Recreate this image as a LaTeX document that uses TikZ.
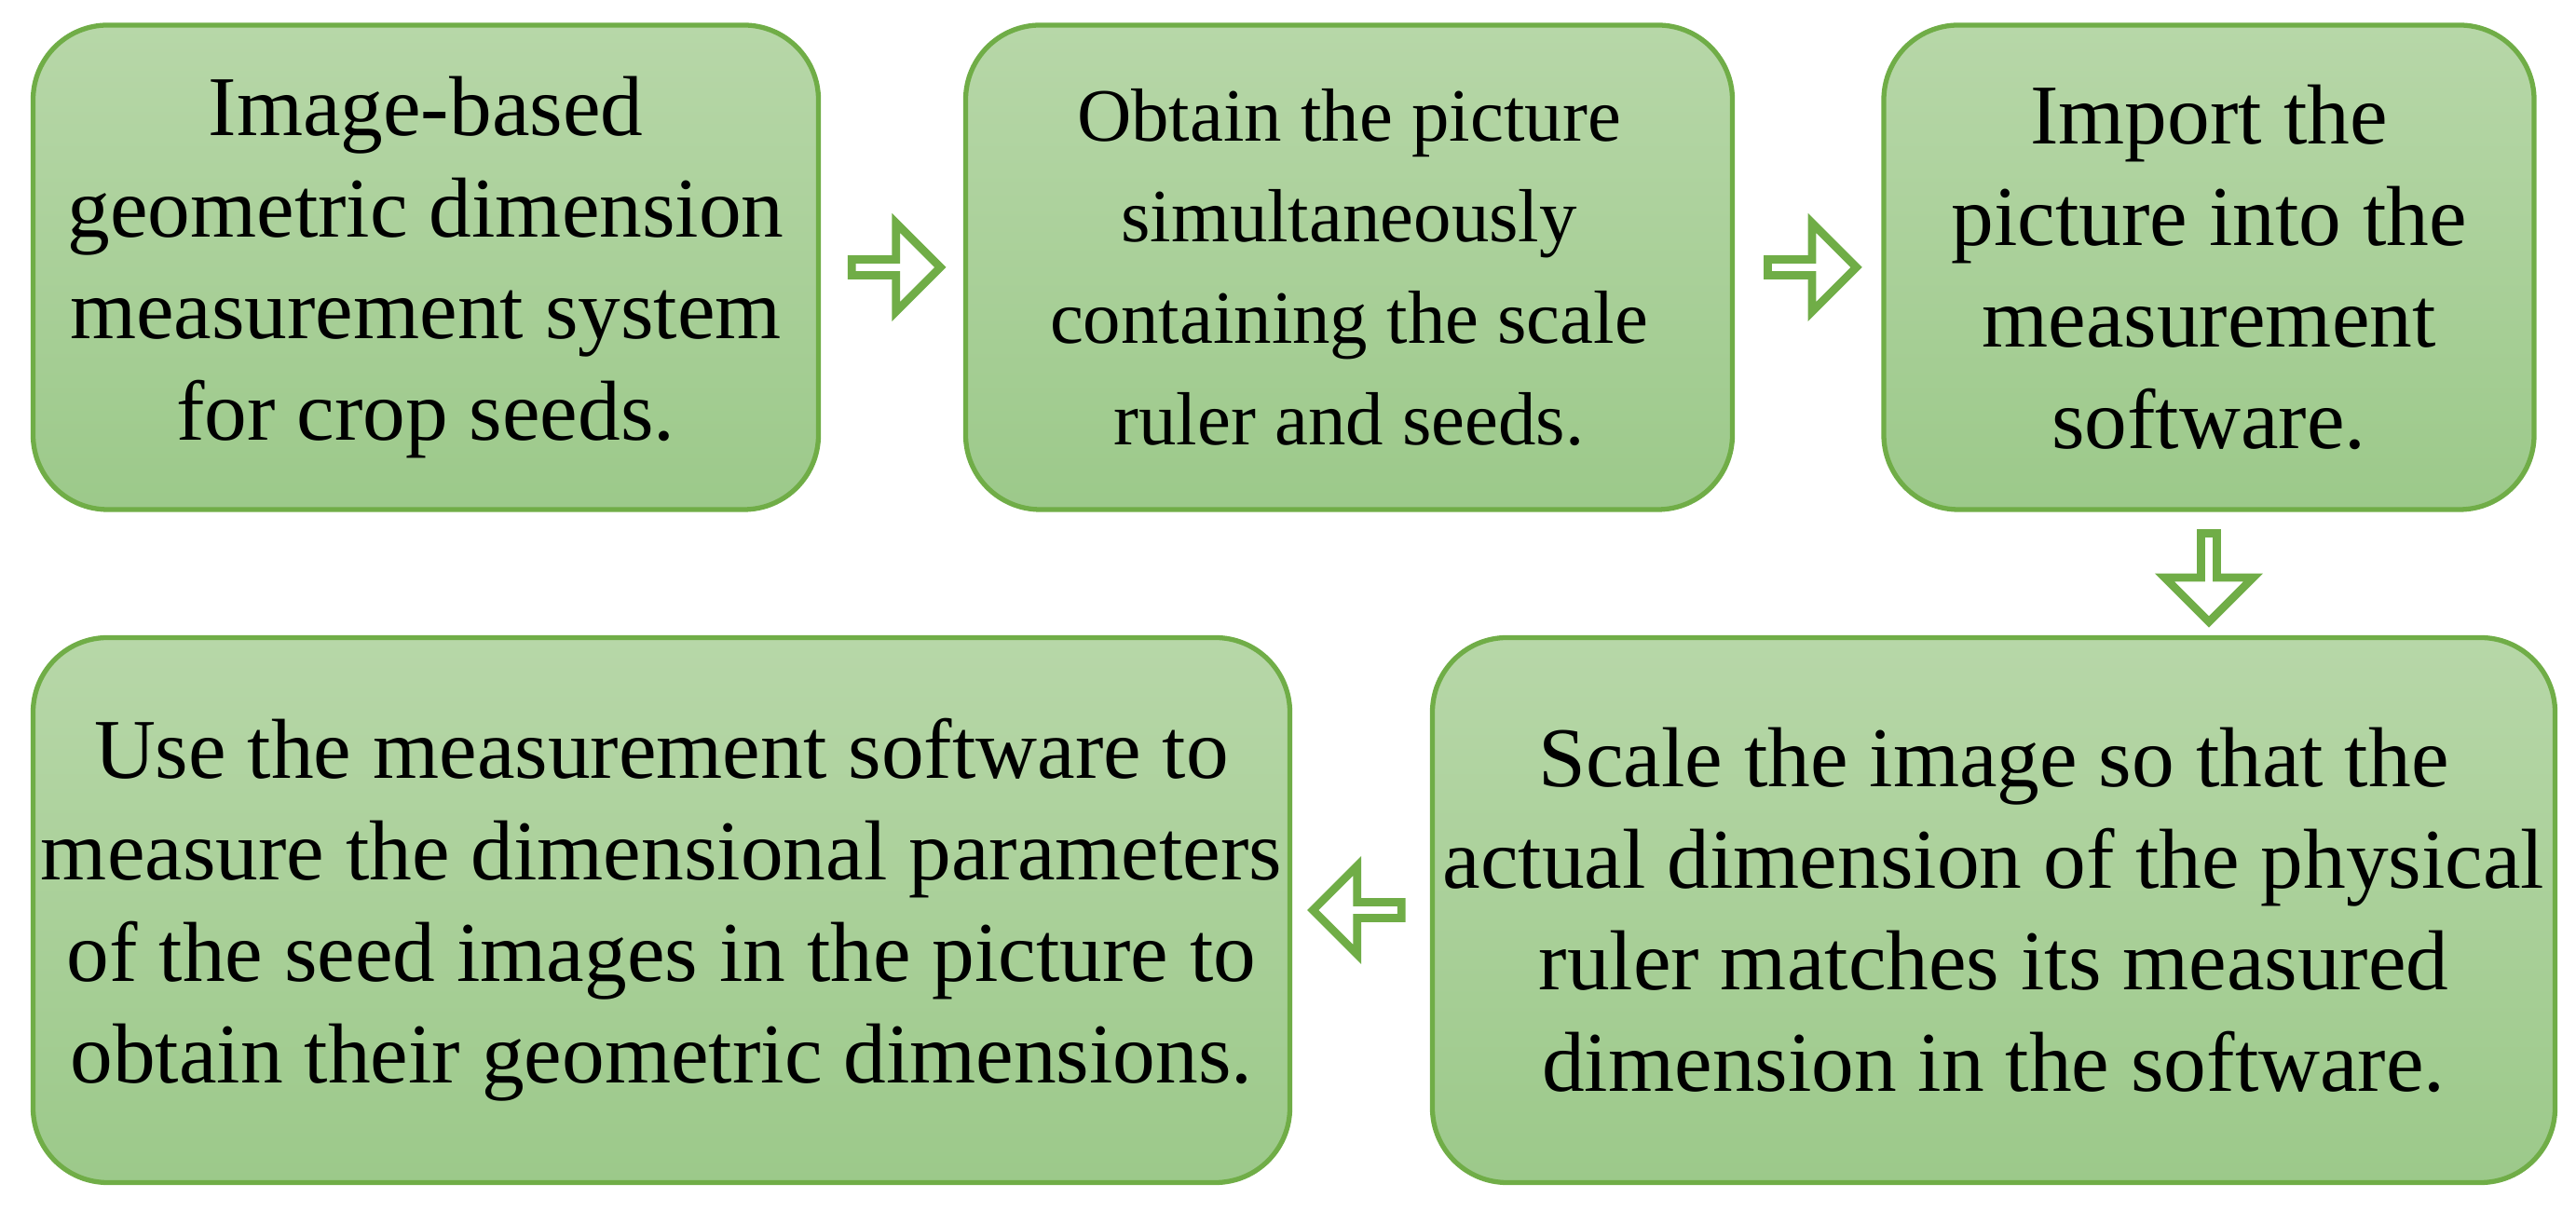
\documentclass[tikz,border=0pt]{standalone}
\usepackage{fontspec}
\setmainfont{Liberation Serif}
\usetikzlibrary{shapes.arrows}
\definecolor{boxtop}{HTML}{B7D7A8}
\definecolor{boxbot}{HTML}{9CC98A}
\definecolor{boxline}{HTML}{70AD47}
\begin{document}
\begin{tikzpicture}[
  stage/.style={draw=boxline, line width=1.5pt, rounded corners=0.8cm,
    top color=boxtop, bottom color=boxbot, align=center,
    inner sep=0pt, font=\fontsize{26}{31}\selectfont},
  flow/.style={single arrow, draw=boxline, fill=white, line width=2.5pt,
    minimum width=0.95cm, single arrow head extend=0.2cm,
    minimum height=0.95cm, inner sep=0pt}
  ]
  \useasboundingbox (0,0) rectangle (27.65,13);

  % top row
  \node[stage, minimum width=8.43cm, minimum height=5.2cm] (seeds) at (4.57,10.13)
    {Image-based\\geometric dimension\\measurement system\\for crop seeds.};
  \node[stage, minimum width=8.23cm, minimum height=5.2cm,
        font=\fontsize{23}{31}\selectfont] (photo) at (14.48,10.13)
    {Obtain the picture\\simultaneously\\containing the scale\\ruler and seeds.};
  \node[stage, minimum width=6.98cm, minimum height=5.2cm] (import) at (23.71,10.13)
    {Import the\\picture into the\\measurement\\software.};

  % bottom row
  \node[stage, minimum width=12.05cm, minimum height=5.85cm] (scale) at (21.40,3.23)
    {Scale the image so that the\\actual dimension of the physical\\ruler matches its measured\\dimension in the software.};
  \node[stage, minimum width=13.49cm, minimum height=5.85cm] (measure) at (7.10,3.23)
    {Use the measurement software to\\measure the dimensional parameters\\of the seed images in the picture to\\obtain their geometric dimensions.};

  % arrows
  \path (seeds.east) -- (photo.west) node[flow, midway] (a1) {};
  \path (photo.east) -- (import.west) node[flow, midway] (a2) {};
  \path (import.south) -- (import.south |- scale.north) node[flow, midway, rotate=-90] (a3) {};
  \path (scale.west) -- (measure.east) node[flow, midway, rotate=180] (a4) {};
\end{tikzpicture}
\end{document}
